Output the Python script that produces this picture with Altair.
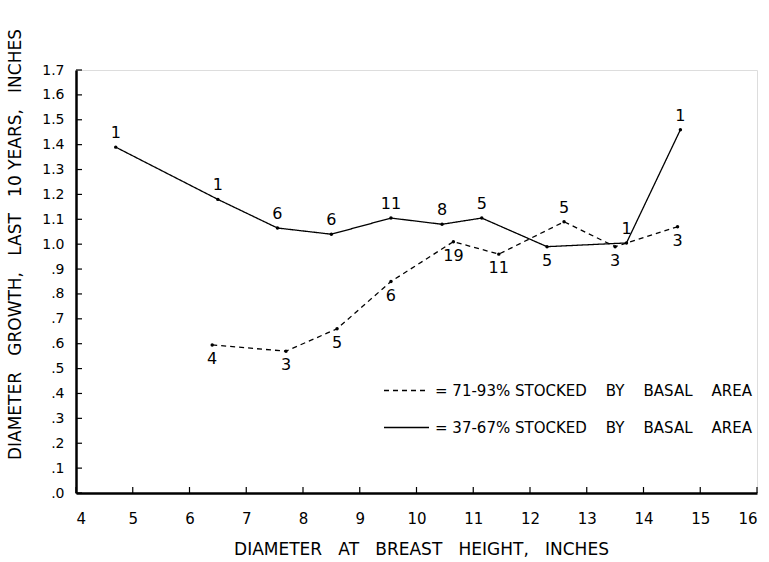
import altair as alt
import pandas as pd

NB = "\u00a0"

# ---- data ----
solid_x = [4.7, 6.5, 7.55, 8.5, 9.55, 10.45, 11.15, 12.3, 13.7, 14.65]
solid_y = [1.39, 1.18, 1.065, 1.04, 1.105, 1.08, 1.105, 0.99, 1.005, 1.46]
solid_n = ["1", "1", "6", "6", "11", "8", "5", "5", "1", "1"]
solid_side = ["above", "above", "above", "above", "above", "above", "above", "below", "above", "above"]

dashed_x = [6.4, 7.7, 8.6, 9.55, 10.65, 11.45, 12.6, 13.5, 14.6]
dashed_y = [0.595, 0.57, 0.66, 0.85, 1.01, 0.96, 1.09, 0.99, 1.07]
dashed_n = ["4", "3", "5", "6", "19", "11", "5", "3", "3"]
dashed_side = ["below", "below", "below", "below", "below", "below", "above", "below", "below"]

gap = NB * 4
series_dashed = "= 71-93% STOCKED" + gap + "BY" + gap + "BASAL" + gap + "AREA"
series_solid = "= 37-67% STOCKED" + gap + "BY" + gap + "BASAL" + gap + "AREA"

x_ticks = [4, 5, 6, 7, 8, 9, 10, 11, 12, 13, 14, 15, 16]
y_ticks = [0.0, 0.1, 0.2, 0.3, 0.4, 0.5, 0.6, 0.7, 0.8, 0.9, 1.0, 1.1, 1.2, 1.3, 1.4, 1.5, 1.6, 1.7]

tg = NB * 3
x_title = "DIAMETER" + tg + "AT" + tg + "BREAST" + tg + "HEIGHT," + tg + "INCHES"
y_title = "DIAMETER" + tg + "GROWTH," + tg + "LAST" + tg + "10 YEARS," + tg + "INCHES"

# ---- tables ----
df = pd.concat([
    pd.DataFrame({"x": dashed_x, "y": dashed_y, "n": dashed_n, "side": dashed_side, "series": series_dashed}),
    pd.DataFrame({"x": solid_x, "y": solid_y, "n": solid_n, "side": solid_side, "series": series_solid}),
], ignore_index=True)
xt = pd.DataFrame({"x": x_ticks})
yt = pd.DataFrame({"y": y_ticks})

W, H = 681, 423
FONT = "DejaVu Sans"

x_enc = alt.X("x:Q", scale=alt.Scale(domain=[4, 16], nice=False, zero=False),
              axis=alt.Axis(title=x_title, values=x_ticks, grid=False, ticks=False, tickSize=0,
                            domainColor="black", domainWidth=2.5, labelPadding=18,
                            labelFontSize=15, labelFont=FONT, labelColor="black",
                            titleFont=FONT, titleFontSize=17, titleFontWeight="normal", titleColor="black",
                            titleX=345, titleY=56, titleAlign="center", titleBaseline="middle",
                            titleLimit=700))
y_enc = alt.Y("y:Q", scale=alt.Scale(domain=[0, 1.7], nice=False, zero=True),
              axis=alt.Axis(title=y_title, values=y_ticks, grid=False, ticks=False, tickSize=0,
                            domainColor="black", domainWidth=2.5, labelPadding=12,
                            labelFontSize=14, labelFont=FONT, labelColor="black",
                            labelExpr="datum.value < 0.95 ? replace(format(datum.value, '.1f'), '0.', '.') : format(datum.value, '.1f')",
                            titleFont=FONT, titleFontSize=17, titleFontWeight="normal", titleColor="black",
                            titleX=-61, titleY=174, titleAlign="center", titleBaseline="middle", titleAngle=270,
                            titleLimit=600))

base = alt.Chart(df)

lines = base.mark_line(color="black", strokeWidth=1.3).encode(
    x=x_enc, y=y_enc,
    strokeDash=alt.StrokeDash("series:N",
        scale=alt.Scale(domain=[series_dashed, series_solid], range=[[5, 4], [1, 0]]),
        legend=alt.Legend(title=None, orient="none", legendX=307, legendY=297,
                          symbolType="stroke", symbolSize=2025, symbolStrokeWidth=1.3,
                          symbolStrokeColor="black", rowPadding=5, labelOffset=5,
                          labelFontSize=15, labelFont=FONT, labelColor="black",
                          labelLimit=500)),
    detail="series:N",
)
points = base.mark_point(filled=True, color="black", size=12, opacity=1).encode(x=x_enc, y=y_enc)

lab_above = base.transform_filter("datum.side == 'above'").mark_text(
    font=FONT, fontSize=16, color="black", dy=-14).encode(x=x_enc, y=y_enc, text="n:N")
lab_below = base.transform_filter("datum.side == 'below'").mark_text(
    font=FONT, fontSize=16, color="black", dy=14).encode(x=x_enc, y=y_enc, text="n:N")

xtick = alt.Chart(xt).mark_rule(color="black", strokeWidth=1.2).encode(
    x=x_enc, y=alt.value(H), y2=alt.value(H - 6))
ytick = alt.Chart(yt).mark_rule(color="black", strokeWidth=1.2).encode(
    y=y_enc, x=alt.value(0), x2=alt.value(6))

chart = alt.layer(xtick, ytick, lines, points, lab_above, lab_below).properties(
    width=W, height=H,
    autosize=alt.AutoSizeParams(type="none"),
    padding={"left": 76, "top": 70, "right": 12, "bottom": 69},
).configure_view(stroke=None).configure(background="white")

chart.save("out.html", embed_options={"renderer": "svg", "actions": False})
